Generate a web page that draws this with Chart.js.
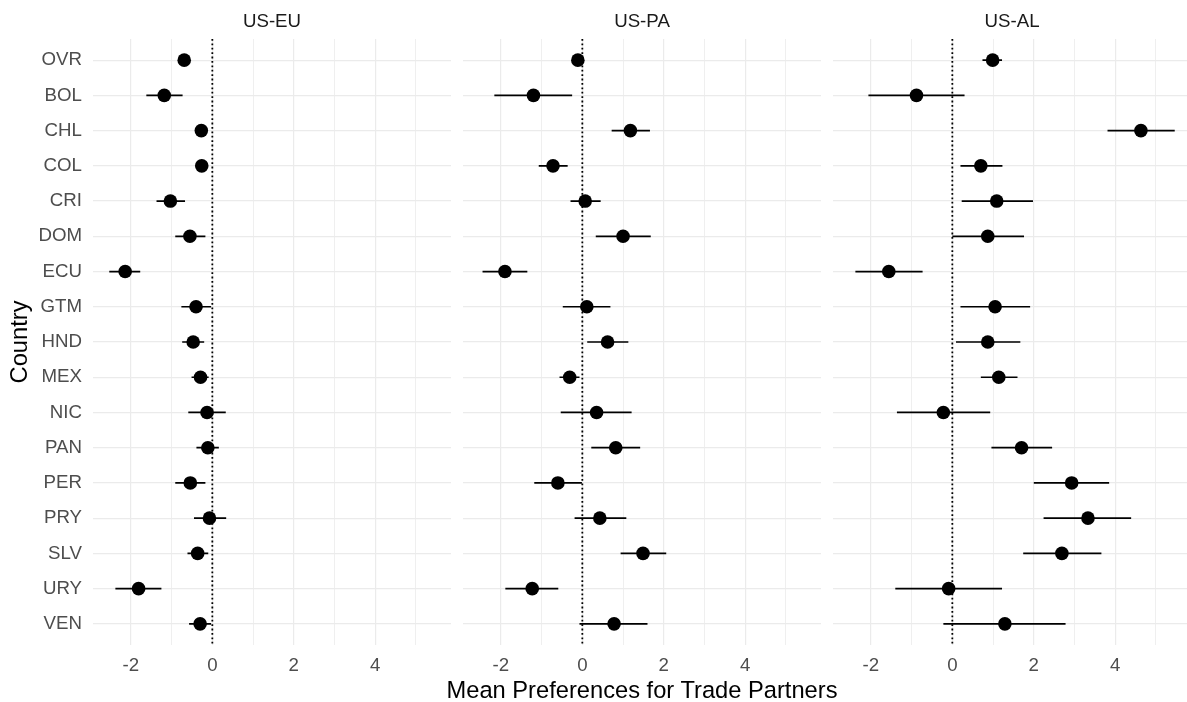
<!DOCTYPE html>
<html>
<head>
<meta charset="utf-8">
<script src="https://cdn.jsdelivr.net/npm/chart.js@4/dist/chart.umd.min.js"></script>
<style>
  html, body { margin: 0; padding: 0; background: #ffffff; overflow: hidden; }
  #wrap { position: relative; width: 1187px; height: 702px; overflow: hidden; }
  canvas { position: absolute; top: 0; }
  #xTitle {
    position: absolute; left: 0; width: 1284px; top: 676px; height: 28px;
    line-height: 28px; text-align: center; white-space: nowrap;
    font-family: 'Liberation Sans', Arial, sans-serif; font-size: 23.7px; color: #000000;
  }
</style>
</head>
<body>
<div id="wrap">
  <canvas id="p0" width="451" height="702" style="left:0px"></canvas>
  <canvas id="p1" width="358" height="702" style="left:463px"></canvas>
  <canvas id="p2" width="358" height="702" style="left:833px"></canvas>
  <div id="xTitle"></div>
</div>
<script>
// Countries, top to bottom
const countries = ['OVR','BOL','CHL','COL','CRI','DOM','ECU','GTM','HND','MEX','NIC','PAN','PER','PRY','SLV','URY','VEN'];
const panelTitles = ['US-EU', 'US-PA', 'US-AL'];
const xAxisTitle = 'Mean Preferences for Trade Partners';
const yAxisTitle = 'Country';

// US-EU: mean and interval bounds
const euMean = [-0.69,-1.18,-0.27,-0.26,-1.03,-0.55,-2.14,-0.40,-0.47,-0.29,-0.13,-0.11,-0.54,-0.07,-0.36,-1.81,-0.30];
const euLow  = [-0.80,-1.62,-0.36,-0.35,-1.37,-0.91,-2.53,-0.76,-0.74,-0.51,-0.59,-0.39,-0.91,-0.45,-0.61,-2.38,-0.57];
const euHigh = [-0.58,-0.73,-0.18,-0.17,-0.67,-0.17,-1.77,-0.03,-0.20,-0.09, 0.33, 0.16,-0.17, 0.34,-0.10,-1.25,-0.03];

// US-PA
const paMean = [-0.11,-1.20, 1.18,-0.72, 0.07, 1.00,-1.90, 0.11, 0.62,-0.31, 0.35, 0.82,-0.60, 0.43, 1.49,-1.23, 0.78];
const paLow  = [-0.25,-2.16, 0.72,-1.07,-0.29, 0.33,-2.45,-0.48, 0.12,-0.56,-0.53, 0.22,-1.18,-0.19, 0.94,-1.89,-0.07];
const paHigh = [ 0.03,-0.25, 1.66,-0.36, 0.45, 1.68,-1.35, 0.69, 1.13,-0.07, 1.21, 1.42,-0.01, 1.08, 2.06,-0.59, 1.60];

// US-AL
const alMean = [ 0.99,-0.88, 4.63, 0.70, 1.09, 0.87,-1.56, 1.05, 0.87, 1.14,-0.22, 1.70, 2.93, 3.33, 2.69,-0.09, 1.29];
const alLow  = [ 0.74,-2.06, 3.81, 0.20, 0.23, 0.00,-2.38, 0.20, 0.09, 0.70,-1.36, 0.96, 2.00, 2.24, 1.74,-1.40,-0.22];
const alHigh = [ 1.22, 0.30, 5.46, 1.23, 1.98, 1.76,-0.73, 1.91, 1.67, 1.60, 0.93, 2.45, 3.85, 4.39, 3.66, 1.22, 2.78];

// Labelled x ticks
const xTickLabels = [-2, 0, 2, 4];

const panelData = [
  { mean: euMean, low: euLow, high: euHigh },
  { mean: paMean, low: paLow, high: paHigh },
  { mean: alMean, low: alLow, high: alHigh }
];

// Shared x range with 5% padding on each side, as for a fixed facet scale
const allLow = [].concat(euLow, paLow, alLow);
const allHigh = [].concat(euHigh, paHigh, alHigh);
const dMin = Math.min(...allLow), dMax = Math.max(...allHigh);
const xMin = dMin - 0.05 * (dMax - dMin);
const xMax = dMax + 0.05 * (dMax - dMin);
const yMin = -0.6, yMax = countries.length - 1 + 0.6;

// The x title spans all three panels, so it sits below them as page text
document.getElementById('xTitle').textContent = xAxisTitle;

Chart.defaults.font.family = "'Liberation Sans', Arial, sans-serif";
Chart.defaults.color = '#4d4d4d';

function buildPanel(idx) {
  const d = panelData[idx];
  const points = d.mean.map((v, i) => ({ x: v, y: i }));
  const bars = [];
  d.low.forEach((lo, i) => {
    bars.push({ x: lo, y: i }, { x: d.high[i], y: i }, { x: null, y: null });
  });
  const isFirst = idx === 0;

  return new Chart(document.getElementById('p' + idx), {
    type: 'scatter',
    data: {
      datasets: [
        {
          label: 'mean',
          data: points,
          backgroundColor: '#000000',
          borderWidth: 0,
          pointRadius: 6.8,
          order: 0
        },
        {
          label: 'interval',
          type: 'line',
          data: bars,
          borderColor: '#000000',
          borderWidth: 1.7,
          pointRadius: 0,
          spanGaps: false,
          fill: false,
          order: 1
        },
        {
          label: 'zero',
          type: 'line',
          data: [{ x: 0, y: yMin }, { x: 0, y: yMax }],
          borderColor: '#000000',
          borderWidth: 1.8,
          borderDash: [1.8, 2.6],
          pointRadius: 0,
          fill: false,
          order: 2
        }
      ]
    },
    options: {
      responsive: false,
      animation: false,
      events: [],
      layout: { padding: 0, autoPadding: false },
      plugins: {
        legend: { display: false },
        tooltip: { enabled: false },
        title: {
          display: true,
          text: panelTitles[idx],
          fullSize: false,
          color: '#1a1a1a',
          font: { size: 18.7, weight: 'normal' },
          padding: { top: 10.5, bottom: 6.06 }
        }
      },
      scales: {
        x: {
          type: 'linear',
          min: xMin,
          max: xMax,
          border: { display: false },
          grid: {
            color: '#ebebeb',
            lineWidth: ctx => (xTickLabels.includes(ctx.tick.value) ? 1.2 : 0.8),
            drawTicks: false
          },
          ticks: {
            stepSize: 1,
            includeBounds: false,
            autoSkip: false,
            maxRotation: 0,
            padding: 9.8,
            color: '#4d4d4d',
            font: { size: 18.7 },
            callback: v => (xTickLabels.includes(v) ? String(v) : '')
          },
          afterFit: scale => { scale.height = 57; }
        },
        y: {
          type: 'linear',
          reverse: true,
          min: yMin,
          max: yMax,
          border: { display: false },
          grid: { color: '#ebebeb', lineWidth: 1.2, drawTicks: false },
          ticks: {
            display: isFirst,
            stepSize: 1,
            includeBounds: false,
            autoSkip: false,
            padding: 11,
            color: '#4d4d4d',
            font: { size: 18.7 },
            callback: v => countries[v]
          },
          title: {
            display: isFirst,
            text: yAxisTitle,
            color: '#000000',
            font: { size: 23.7, lineHeight: 1 },
            padding: { top: 8.2, bottom: 0 }
          },
          afterFit: scale => { scale.width = isFirst ? 93 : 0; }
        }
      }
    }
  });
}

[0, 1, 2].forEach(buildPanel);
</script>
</body>
</html>
